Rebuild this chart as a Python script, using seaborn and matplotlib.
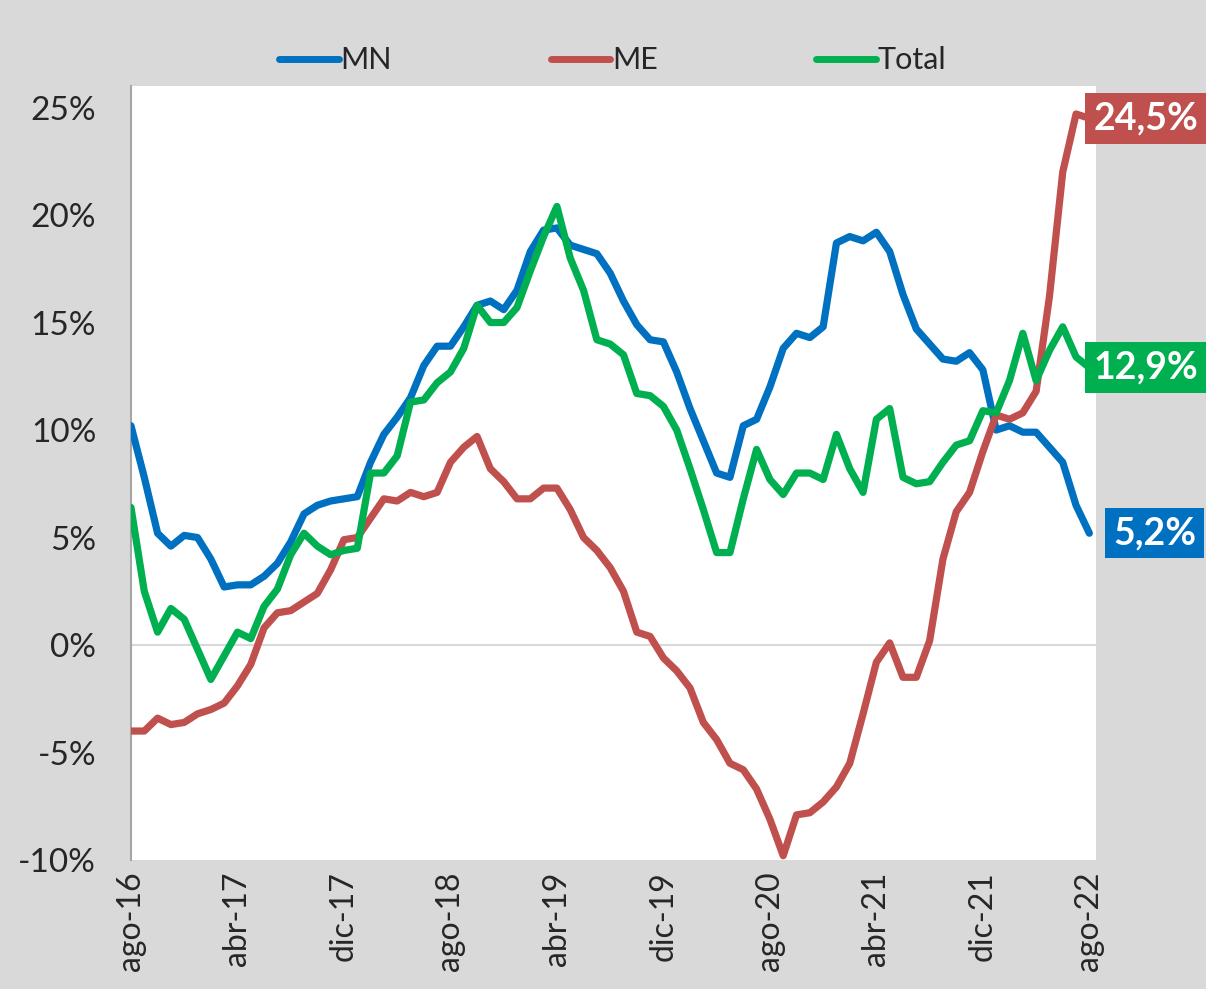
import numpy as np
import pandas as pd
import seaborn as sns
from matplotlib import pyplot as plt
from matplotlib.lines import Line2D

# monthly series, ago-16 .. ago-22 (73 months)
month_names = ["ene", "feb", "mar", "abr", "may", "jun", "jul", "ago", "sep", "oct", "nov", "dic"]
months = [f"{month_names[(7 + i) % 12]}-{16 + (7 + i) // 12}" for i in range(73)]

mn = [10.2, 7.8, 5.2, 4.6, 5.1, 5.0, 4.0, 2.7, 2.8, 2.8, 3.2, 3.8, 4.8, 6.1, 6.5, 6.7,
      6.8, 6.9, 8.5, 9.8, 10.6, 11.5, 13.0, 13.9, 13.9, 14.8, 15.8, 16.0, 15.6, 16.5, 18.3, 19.3,
      19.4, 18.6, 18.4, 18.2, 17.3, 16.0, 14.9, 14.2, 14.1, 12.7, 11.0, 9.5, 8.0, 7.8, 10.2, 10.5,
      12.0, 13.8, 14.5, 14.3, 14.8, 18.7, 19.0, 18.8, 19.2, 18.3, 16.3, 14.7, 14.0, 13.3, 13.2, 13.6,
      12.8, 10.0, 10.2, 9.9, 9.9, 9.2, 8.5, 6.5, 5.2]
me = [-4.0, -4.0, -3.4, -3.7, -3.6, -3.2, -3.0, -2.7, -1.9, -0.9, 0.8, 1.5, 1.6, 2.0, 2.4, 3.5,
      4.9, 5.0, 5.9, 6.8, 6.7, 7.1, 6.9, 7.1, 8.5, 9.2, 9.7, 8.2, 7.6, 6.8, 6.8, 7.3,
      7.3, 6.3, 5.0, 4.4, 3.6, 2.5, 0.6, 0.4, -0.6, -1.2, -2.0, -3.6, -4.4, -5.5, -5.8, -6.7,
      -8.1, -9.8, -7.9, -7.8, -7.3, -6.6, -5.5, -3.2, -0.8, 0.1, -1.5, -1.5, 0.2, 4.0, 6.2, 7.1,
      9.0, 10.7, 10.5, 10.8, 11.8, 16.2, 22.0, 24.7, 24.5]
total = [6.4, 2.5, 0.6, 1.7, 1.2, -0.2, -1.6, -0.5, 0.6, 0.3, 1.8, 2.6, 4.2, 5.2, 4.6, 4.2,
         4.4, 4.5, 8.0, 8.0, 8.8, 11.3, 11.4, 12.2, 12.7, 13.8, 15.8, 15.0, 15.0, 15.7, 17.4, 19.0,
         20.4, 18.0, 16.5, 14.2, 14.0, 13.5, 11.7, 11.6, 11.1, 10.0, 8.2, 6.3, 4.3, 4.3, 6.8, 9.1,
         7.7, 7.0, 8.0, 8.0, 7.7, 9.8, 8.2, 7.1, 10.5, 11.0, 7.8, 7.5, 7.6, 8.5, 9.3, 9.5,
         10.9, 10.8, 12.3, 14.5, 12.3, 13.7, 14.8, 13.4, 12.9]

series = ["MN", "ME", "Total"]
colors = {"MN": "#0070C0", "ME": "#C0504D", "Total": "#00B050"}
end_labels = {"MN": "5,2%", "ME": "24,5%", "Total": "12,9%"}

df = pd.DataFrame({"idx": np.arange(len(months)), "MN": mn, "ME": me, "Total": total})
long = df.melt(id_vars="idx", var_name="serie", value_name="valor")

sns.set_theme(style="white")
plt.rcParams["font.family"] = ["Lato", "DejaVu Sans"]

fig = plt.figure(figsize=(12.06, 9.89), dpi=100, facecolor="#D9D9D9")
ax = fig.add_axes([0.1086, 0.1304, 0.8002, 0.7826])
ax.set_facecolor("white")

ax.axhline(0, color="#D9D9D9", lw=1.5, zorder=1)
sns.lineplot(data=long, x="idx", y="valor", hue="serie", hue_order=series,
             palette=colors, linewidth=5.2, legend=False, ax=ax, zorder=3,
             solid_joinstyle="round", solid_capstyle="round")

ax.set_xlim(0, 72.5)
ax.set_ylim(-10, 26)
ax.set_yticks(np.arange(-10, 26, 5))
ax.set_yticklabels([f"{v}%" for v in range(-10, 26, 5)], fontsize=24)
ticks = list(range(0, 73, 8))
ax.set_xticks(ticks)
ax.set_xticklabels([months[i] for i in ticks], rotation=90, fontsize=23, va="top")
ax.tick_params(axis="x", length=0, pad=8)
ax.tick_params(axis="y", length=0, pad=25)
ax.set_xlabel("")
ax.set_ylabel("")

for side in ["top", "right", "bottom"]:
    ax.spines[side].set_visible(False)
ax.spines["left"].set_color("#A6A6A6")
ax.spines["left"].set_linewidth(1.5)

# end-of-line value boxes
offsets = {"MN": 17, "ME": 3, "Total": 3}
for s in series:
    ax.annotate(end_labels[s], xy=(len(months) - 1, df[s].iloc[-1]),
                xytext=(offsets[s], 0), textcoords="offset points",
                ha="left", va="center", fontsize=27, fontweight="bold", color="white",
                bbox=dict(boxstyle="square,pad=0.22", fc=colors[s], ec="none"),
                annotation_clip=False, zorder=5)

handles = [Line2D([0], [0], color=colors[s], lw=5) for s in series]
fig.legend(handles, series, loc="center", bbox_to_anchor=(0.508, 0.939), ncol=3,
           frameon=False, fontsize=22, handlelength=1.95, handletextpad=0.05,
           columnspacing=5.2)

fig.savefig("out.png", dpi=100, facecolor=fig.get_facecolor())
